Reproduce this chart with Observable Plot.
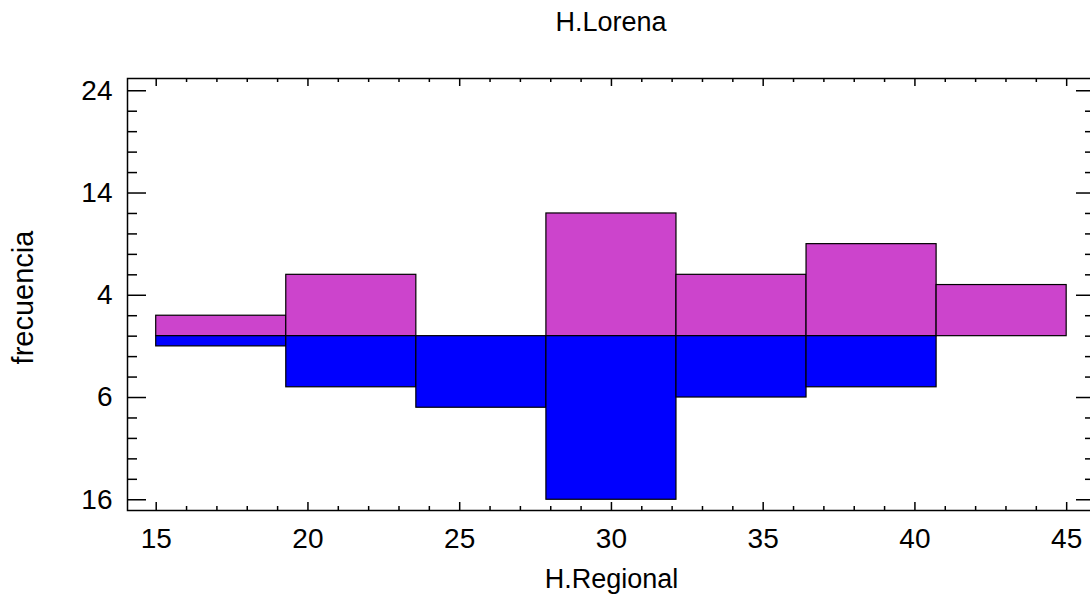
<!DOCTYPE html>
<html>
<head>
<meta charset="utf-8">
<script src="https://cdn.jsdelivr.net/npm/d3@7"></script>
<script src="https://cdn.jsdelivr.net/npm/@observablehq/plot@0.6"></script>
<style>
  html, body { margin: 0; padding: 0; background: #fff; overflow: hidden; width: 1090px; }
  #title { font-family: "Liberation Sans", Arial, sans-serif; font-size: 27px; line-height: 27px;
           height: 41px; padding-top: 9px; margin-left: 127px; width: 968px; text-align: center; color: #000; }
  #chart svg { display: block; max-width: none !important; width: 1100px; height: 547px; }
</style>
</head>
<body>
<div id="title">H.Lorena</div>
<div id="chart"></div>
<script>
// Bin edges (H.Regional axis), 7 bins from 15 to 45
const binEdges = [15, 19.2857, 23.5714, 27.8571, 32.1429, 36.4286, 40.7143, 45];
// Frequencies of H.Lorena (upper, magenta)
const lorena = [2, 6, 0, 12, 6, 9, 5];
// Frequencies of H.Regional (lower, blue, mirrored)
const regional = [1, 5, 7, 16, 6, 5, 0];
// Axis ticks
const xMajor = [15, 20, 25, 30, 35, 40, 45];
const xMinor = [16,17,18,19,21,22,23,24,26,27,28,29,31,32,33,34,36,37,38,39,41,42,43,44];
const yMajor = [-16, -6, 4, 14, 24];
const yMinor = [-14,-12,-10,-8,-4,-2,0,2,6,8,10,12,16,18,20,22];

const W = 1100, H = 547, mL = 127, mR = 5, mT = 28, mB = 87;
const pw = W - mL - mR, ph = H - mT - mB;

const rows = [];
for (let i = 0; i < lorena.length; i++) {
  if (lorena[i] > 0) rows.push({x1: binEdges[i], x2: binEdges[i+1], y1: 0, y2: lorena[i], s: "H.Lorena"});
  if (regional[i] > 0) rows.push({x1: binEdges[i], x2: binEdges[i+1], y1: 0, y2: -regional[i], s: "H.Regional"});
}

const font = "Liberation Sans, Arial, sans-serif";

const chart = Plot.plot({
  width: W, height: H,
  marginLeft: mL, marginRight: mR, marginTop: mT, marginBottom: mB,
  style: {fontFamily: font, fontSize: "27px", color: "#000", background: "#fff", maxWidth: "none"},
  x: {domain: [14.054, 45.95]},
  y: {domain: [-17.05, 25.2]},
  color: {domain: ["H.Lorena", "H.Regional"], range: ["#cc44cc", "#0000ff"]},
  marks: [
    Plot.rect(rows, {x1: "x1", x2: "x2", y1: "y1", y2: "y2", fill: "s", stroke: "#000", strokeWidth: 1.2}),
    // y ticks (inward, left and right)
    Plot.tickY(yMajor, {y: d => d, insetRight: pw - 19, stroke: "#000", strokeWidth: 1.5}),
    Plot.tickY(yMinor, {y: d => d, insetRight: pw - 10, stroke: "#000", strokeWidth: 1.5}),
    Plot.tickY(yMajor, {y: d => d, insetLeft: pw - 19, stroke: "#000", strokeWidth: 1.5}),
    Plot.tickY(yMinor, {y: d => d, insetLeft: pw - 10, stroke: "#000", strokeWidth: 1.5}),
    // x ticks (inward, bottom and top)
    Plot.tickX(xMajor, {x: d => d, insetTop: ph - 8, stroke: "#000", strokeWidth: 1.5}),
    Plot.tickX(xMinor, {x: d => d, insetTop: ph - 4, stroke: "#000", strokeWidth: 1.5}),
    Plot.tickX(xMajor, {x: d => d, insetBottom: ph - 8, stroke: "#000", strokeWidth: 1.5}),
    Plot.tickX(xMinor, {x: d => d, insetBottom: ph - 4, stroke: "#000", strokeWidth: 1.5}),
    Plot.axisX({ticks: xMajor, tickSize: 0, tickPadding: 18, label: null, fontSize: 28}),
    Plot.axisY({ticks: yMajor, tickSize: 0, tickPadding: 15, tickFormat: d => String(Math.abs(d)), label: null, fontSize: 28}),
    Plot.frame({stroke: "#000", strokeWidth: 1.5}),
    Plot.text(["H.Regional"], {text: d => d, frameAnchor: "bottom", lineAnchor: "top", dy: 58, fontSize: 27}),
    Plot.text(["frecuencia"], {text: d => d, frameAnchor: "left", textAnchor: "middle", rotate: -90, lineAnchor: "middle", dx: -104, dy: 3, fontSize: 29})
  ]
});
document.getElementById("chart").appendChild(chart);
</script>
</body>
</html>
